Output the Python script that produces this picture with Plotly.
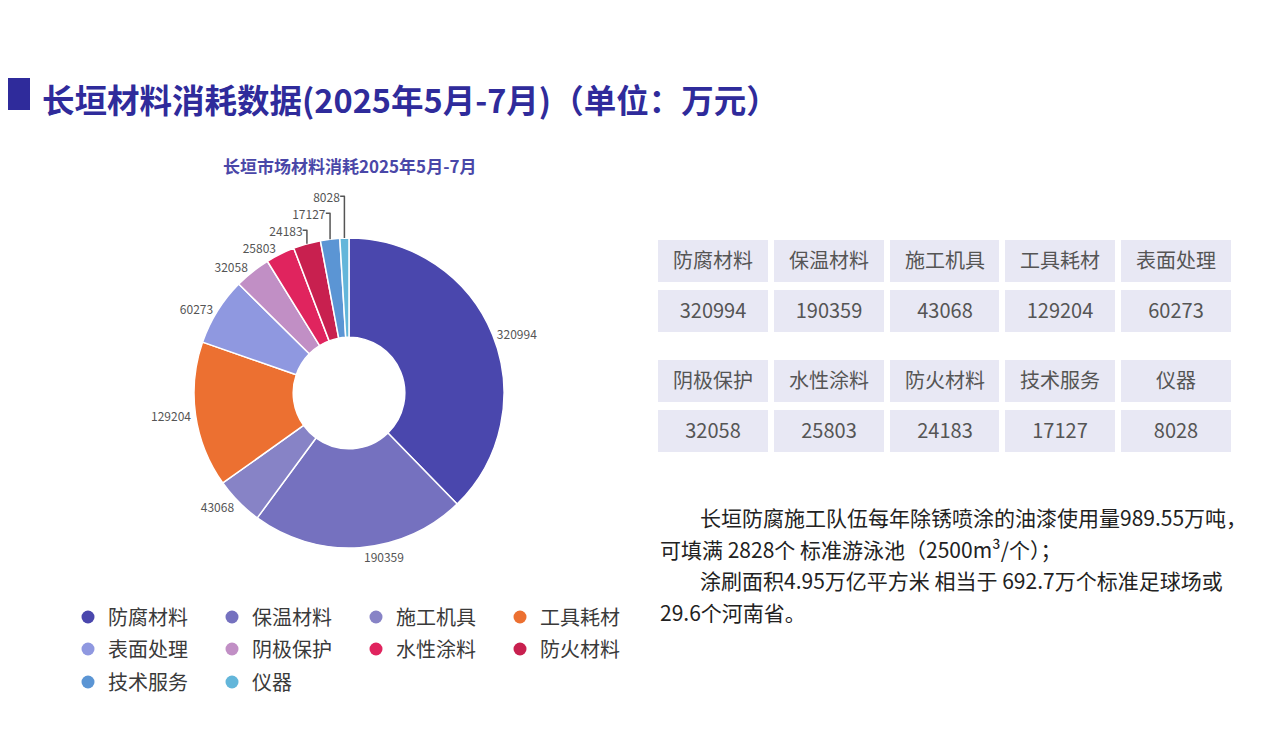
import plotly.graph_objects as go

W, H = 1286, 734
OFF = 8  # page margin around the plot div

materials = ['防腐材料', '保温材料', '施工机具', '工具耗材', '表面处理',
             '阴极保护', '水性涂料', '防火材料', '技术服务', '仪器']
amounts = [320994, 190359, 43068, 129204, 60273,
           32058, 25803, 24183, 17127, 8028]
colors = ['#4a47ad', '#7571bf', '#8783c6', '#ec7031', '#8f98e0',
          '#c18fc5', '#e0245e', '#c8204f', '#5b95d4', '#63b6da']

title = '长垣材料消耗数据(2025年5月-7月)（单位：万元）'
subtitle = '长垣市场材料消耗2025年5月-7月'
notes = [
    '长垣防腐施工队伍每年除锈喷涂的油漆使用量989.55万吨，',
    '可填满 2828个 标准游泳池（2500m³/个）；',
    '涂刷面积4.95万亿平方米 相当于 692.7万个标准足球场或',
    '29.6个河南省。',
]

FONT = 'Noto Sans CJK SC'


def px(x):
    return (x - OFF) / W


def py(y):
    return 1 - (y - OFF) / H


fig = go.Figure()

# donut
cx, cy, r = 349, 393, 155
fig.add_trace(go.Pie(
    labels=materials, values=amounts,
    marker=dict(colors=colors, line=dict(color='white', width=1.5)),
    hole=0.36, sort=False, direction='clockwise', rotation=0,
    textposition='outside', texttemplate='%{value:d}',
    textfont=dict(size=12, color='#555555', family=FONT),
    domain=dict(x=[px(cx - r), px(cx + r)], y=[py(cy + r), py(cy - r)]),
    showlegend=False, automargin=False, hoverinfo='label+value',
))

# legend entries with round markers, split over three rows
for i, (name, c) in enumerate(zip(materials, colors)):
    lg = ['legend', 'legend2', 'legend3'][i // 4]
    fig.add_trace(go.Scatter(
        x=[None], y=[None], mode='markers', name=name,
        marker=dict(color=c, size=13, symbol='circle'),
        legend=lg,
    ))

legend_style = dict(orientation='h', xanchor='left', yanchor='middle',
                    x=px(68), entrywidth=99, entrywidthmode='pixels',
                    font=dict(size=20, color='#3a3a3a', family=FONT),
                    itemsizing='trace', bgcolor='rgba(0,0,0,0)')

# tables: two groups of five, drawn as heatmap bricks with centred text
table_rows = [(240, 332), (360, 452)]
axes_layout = {}
for k in range(2):
    names = materials[k * 5:(k + 1) * 5]
    vals = [str(v) for v in amounts[k * 5:(k + 1) * 5]]
    ax = k + 2
    fig.add_trace(go.Heatmap(
        z=[[0] * 5, [0] * 5], x=list(range(5)), y=[0, 1],
        text=[names, vals], texttemplate='%{text}',
        textfont=dict(size=20, color='#555555', family=FONT),
        colorscale=[[0, '#e8e8f4'], [1, '#e8e8f4']], showscale=False,
        xgap=6, ygap=8, hoverinfo='skip',
        xaxis='x%d' % ax, yaxis='y%d' % ax,
    ))
    top, bottom = table_rows[k]
    axes_layout['xaxis%d' % ax] = dict(domain=[px(658 - 3), px(1231 + 3)],
                                       visible=False, anchor='y%d' % ax)
    axes_layout['yaxis%d' % ax] = dict(domain=[py(bottom + 4), py(top - 4)],
                                       visible=False, autorange='reversed',
                                       anchor='x%d' % ax)

annotations = [
    dict(x=px(40), y=py(98), text='<b>' + title + '</b>',
         font=dict(size=32.5, color='#2f2b9b', family=FONT), xanchor='left'),
    dict(x=px(cx), y=py(166), text='<b>' + subtitle + '</b>',
         font=dict(size=17, color='#4a47a8', family=FONT), xanchor='center'),
]
for i, line in enumerate(notes):
    annotations.append(dict(
        x=px(698 if i % 2 == 0 else 658), y=py([517, 549, 580, 612][i]),
        text=line, xanchor='left',
        font=dict(size=21, color='#222222', family=FONT)))
for a in annotations:
    a.update(xref='paper', yref='paper', showarrow=False, yanchor='middle')

fig.update_layout(
    width=W, height=H,
    margin=dict(l=0, r=0, t=0, b=0),
    paper_bgcolor='white', plot_bgcolor='white',
    xaxis=dict(visible=False), yaxis=dict(visible=False),
    legend=dict(legend_style, y=py(617)),
    legend2=dict(legend_style, y=py(649)),
    legend3=dict(legend_style, y=py(682)),
    annotations=annotations,
    shapes=[dict(type='rect', xref='paper', yref='paper',
                 x0=px(0), x1=px(30), y0=py(110), y1=py(78),
                 fillcolor='#2f2b9b', line=dict(width=0))],
    **axes_layout,
)

fig.write_html('out.html')
